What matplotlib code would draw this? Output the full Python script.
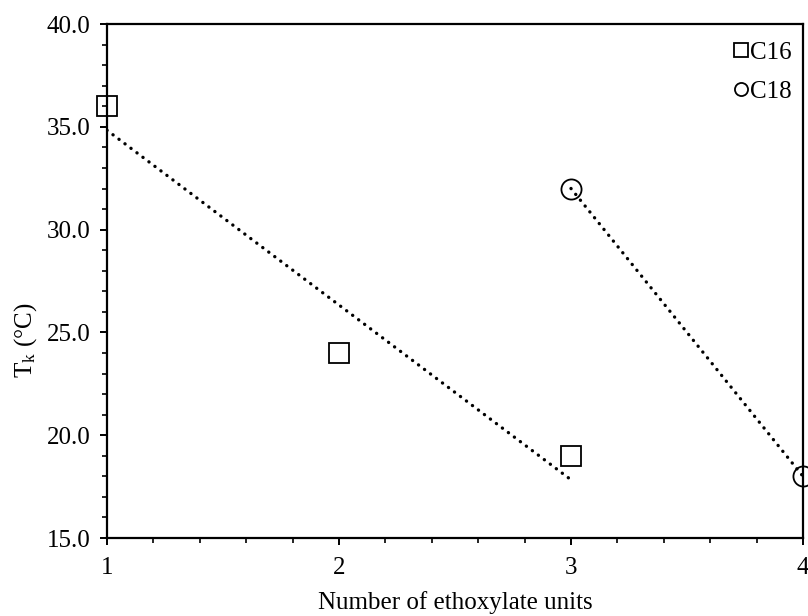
import matplotlib
matplotlib.use("Agg")
import matplotlib.pyplot as plt
import numpy as np
from matplotlib.ticker import MultipleLocator, FormatStrFormatter

plt.rcParams['font.family'] = ['Liberation Serif', 'DejaVu Serif']
plt.rcParams['mathtext.fontset'] = 'custom'
plt.rcParams['mathtext.rm'] = 'Liberation Serif'
plt.rcParams['mathtext.it'] = 'Liberation Serif:italic'

# data
c16_x = [1, 2, 3]
c16_y = [36, 24, 19]
c18_x = [3, 4]
c18_y = [32, 18]

fig = plt.figure(figsize=(8.08, 6.16), dpi=100)
ax = fig.add_axes([0.1324, 0.1266, 0.8614, 0.8344])

# linear trend lines
for xs, ys in [(c16_x, c16_y), (c18_x, c18_y)]:
    k, b = np.polyfit(xs, ys, 1)
    xx = np.array([min(xs), max(xs)])
    ax.plot(xx, k * xx + b, color='black', lw=2.4, linestyle=(0, (0.05, 2.2)),
            dash_capstyle='round', zorder=2)

ax.plot(c16_x, c16_y, 's', ms=14.5, mfc='none', mec='black', mew=1.3,
        linestyle='none', label='C16', clip_on=False, zorder=3)
ax.plot(c18_x, c18_y, 'o', ms=14.5, mfc='none', mec='black', mew=1.3,
        linestyle='none', label='C18', clip_on=False, zorder=3)

ax.set_xlim(1, 4)
ax.set_ylim(15, 40)
ax.xaxis.set_major_locator(MultipleLocator(1))
ax.xaxis.set_minor_locator(MultipleLocator(0.2))
ax.yaxis.set_major_locator(MultipleLocator(5))
ax.yaxis.set_minor_locator(MultipleLocator(1))
ax.yaxis.set_major_formatter(FormatStrFormatter('%.1f'))

ax.tick_params(which='major', direction='out', length=5, width=1.4, labelsize=18, pad=7)
ax.tick_params(which='minor', direction='out', length=3.5, width=1.2)
ax.tick_params(axis='x', which='major', pad=9)
for s in ax.spines.values():
    s.set_linewidth(1.6)

ax.set_xlabel('Number of ethoxylate units', fontsize=18, labelpad=8)
ax.set_ylabel(r'T$_\mathrm{k}$ (°C)', fontsize=18)
ax.yaxis.set_label_coords(-0.098, 0.385)

leg = ax.legend(loc='upper right', bbox_to_anchor=(0.994, 0.981), frameon=False,
                fontsize=18, markerscale=0.65, handlelength=0.4, handletextpad=0.15,
                labelspacing=0.65, borderaxespad=0.0, borderpad=0.3)

fig.savefig('out.png', dpi=100)
